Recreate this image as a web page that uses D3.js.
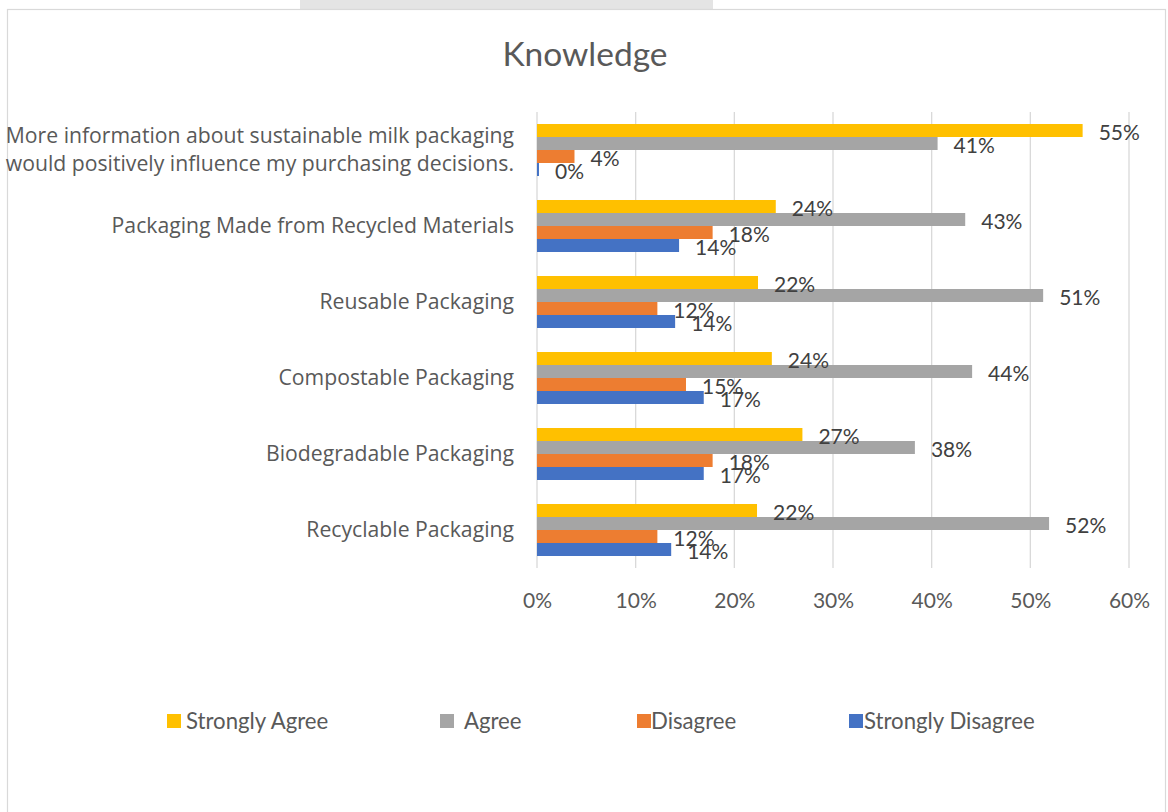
<!DOCTYPE html>
<html>
<head>
<meta charset="utf-8">
<script src="https://cdn.jsdelivr.net/npm/d3@7/dist/d3.min.js"></script>
<style>
  html, body { margin: 0; padding: 0; background: #ffffff; }
  svg { display: block; }
</style>
</head>
<body>
<svg id="chart" width="1168" height="812"></svg>
<script>
// Survey statements (top to bottom) and the share of answers per response level
const categories = [
  "More information about sustainable milk packaging\nwould positively influence my purchasing decisions.",
  "Packaging Made from Recycled Materials",
  "Reusable Packaging",
  "Compostable Packaging",
  "Biodegradable Packaging",
  "Recyclable Packaging"
];
const seriesNames = ["Strongly Agree", "Agree", "Disagree", "Strongly Disagree"];
const stronglyAgree    = [0.553, 0.242, 0.224, 0.238, 0.269, 0.223];
const agree            = [0.406, 0.434, 0.513, 0.441, 0.383, 0.519];
const disagree         = [0.038, 0.178, 0.122, 0.151, 0.178, 0.122];
const stronglyDisagree = [0.002, 0.144, 0.140, 0.169, 0.169, 0.136];
const xTicks = [0, 0.1, 0.2, 0.3, 0.4, 0.5, 0.6];
const colors = ["#FFC000", "#A5A5A5", "#ED7D31", "#4472C4"];

const seriesValues = [stronglyAgree, agree, disagree, stronglyDisagree];

const svg = d3.select("#chart");
const fmt = d3.format(".0%");
const calibriLike = "Lato, 'Open Sans', sans-serif";
const labelFont = "'Open Sans', 'Noto Sans', sans-serif";

// Frame: tab strip above and the chart area border
svg.append("rect")
  .attr("x", 300).attr("y", 0).attr("width", 413).attr("height", 9.5)
  .attr("fill", "#e4e4e4");
svg.append("rect")
  .attr("x", 7.5).attr("y", 9.5).attr("width", 1158).attr("height", 820)
  .attr("fill", "#ffffff").attr("stroke", "#d9d9d9").attr("stroke-width", 1.2);

// Title
svg.append("text")
  .attr("x", 585).attr("y", 66)
  .attr("text-anchor", "middle")
  .attr("font-family", calibriLike).attr("font-size", 33.5)
  .attr("fill", "#595959")
  .text("Knowledge");

// Scales
const x = d3.scaleLinear().domain([0, 0.6]).range([537, 1129]);
const y = d3.scaleBand().domain(d3.range(categories.length)).range([112, 568])
  .paddingInner(0.316).paddingOuter(0.158);
const ySub = d3.scaleBand().domain(d3.range(seriesNames.length)).range([0, y.bandwidth()]);

// Vertical gridlines
svg.append("g").selectAll("line").data(xTicks).join("line")
  .attr("x1", d => x(d)).attr("x2", d => x(d))
  .attr("y1", 112).attr("y2", 568)
  .attr("stroke", "#d9d9d9").attr("stroke-width", 1.3);

// X axis tick labels
const xAxis = d3.axisBottom(x).tickValues(xTicks).tickFormat(d3.format(".0%")).tickSize(0).tickPadding(0);
const gx = svg.append("g").attr("transform", "translate(0,608)").call(xAxis);
gx.select(".domain").remove();
gx.selectAll("text")
  .attr("dy", 0).attr("y", 0)
  .attr("font-family", calibriLike).attr("font-size", 21)
  .attr("fill", "#595959");

// Category labels (right aligned, multi-line where needed)
const catG = svg.append("g");
categories.forEach((c, i) => {
  const lines = c.split("\n");
  const cy = y(i) + y.bandwidth() / 2;
  const lh = 28;
  const t = catG.append("text")
    .attr("text-anchor", "end")
    .attr("font-family", labelFont).attr("font-size", 21.2)
    .attr("fill", "#595959");
  lines.forEach((ln, k) => {
    t.append("tspan")
      .attr("x", 514)
      .attr("y", cy + (k - (lines.length - 1) / 2) * lh)
      .attr("dy", "0.35em")
      .text(ln);
  });
});

// Bars and value labels
const rows = [];
categories.forEach((c, i) => {
  seriesValues.forEach((vals, s) => rows.push({ i, s, v: vals[i] }));
});

svg.append("g").selectAll("rect").data(rows).join("rect")
  .attr("x", x(0))
  .attr("y", d => y(d.i) + ySub(d.s))
  .attr("width", d => x(d.v) - x(0))
  .attr("height", ySub.bandwidth())
  .attr("fill", d => colors[d.s]);

svg.append("g").selectAll("text").data(rows).join("text")
  .attr("x", d => x(d.v) + 16)
  .attr("y", d => y(d.i) + ySub(d.s) + ySub.bandwidth() / 2 + 2)
  .attr("dy", "0.35em")
  .attr("font-family", calibriLike).attr("font-size", 21)
  .attr("fill", "#404040")
  .text(d => fmt(d.v));

// Legend
const legendX = [167, 440, 637, 849];
const legendTextX = [186, 459, 651, 864];
const legendLabels = ["Strongly Agree", " Agree", "Disagree", "Strongly Disagree"];
const lg = svg.append("g");
seriesNames.forEach((n, s) => {
  lg.append("rect")
    .attr("x", legendX[s]).attr("y", 714)
    .attr("width", 14).attr("height", 14)
    .attr("fill", colors[s]);
  lg.append("text")
    .attr("x", legendTextX[s]).attr("y", 721)
    .attr("dy", "0.35em")
    .attr("font-family", calibriLike).attr("font-size", 22.2)
    .attr("fill", "#595959")
    .attr("xml:space", "preserve")
    .style("white-space", "pre")
    .text(legendLabels[s]);
});
</script>
</body>
</html>
